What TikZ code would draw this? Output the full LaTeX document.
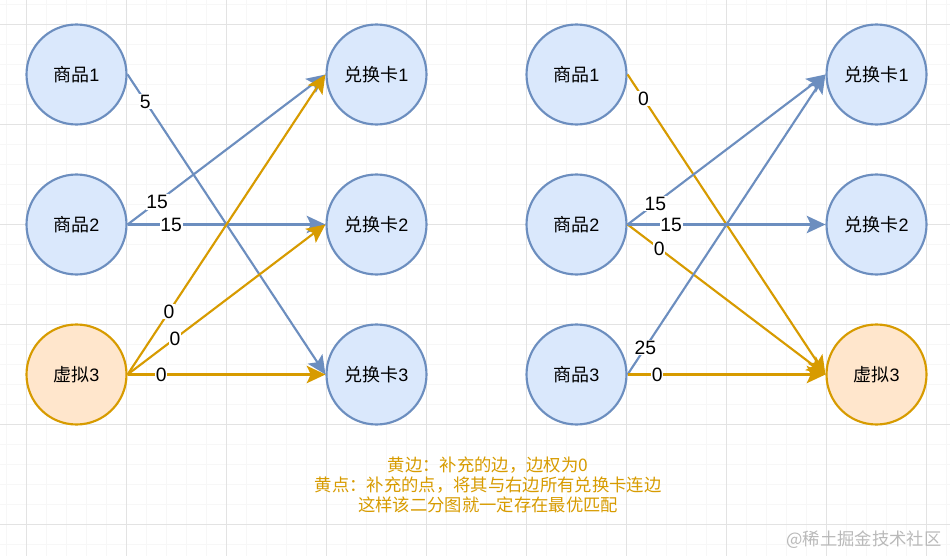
\documentclass[tikz,border=0pt]{standalone}
\usepackage{fontspec}
\setmainfont{Liberation Sans}
\newfontfamily\cjk{Noto Sans CJK SC}
\usetikzlibrary{arrows.meta}
\usepackage{xcolor}
\definecolor{itemfill}{HTML}{DAE8FC}
\definecolor{itemdraw}{HTML}{6C8EBF}
\definecolor{dummyfill}{HTML}{FFE6CC}
\definecolor{dummydraw}{HTML}{D79B00}

\begin{document}
\begin{tikzpicture}[
      x=0.75pt, y=-0.75pt,
      font=\fontsize{13.5}{15}\selectfont,
      item/.style={circle, draw=itemdraw, fill=itemfill, line width=1.6pt,
                   minimum size=75pt, inner sep=0pt},
      dummy/.style={item, draw=dummydraw, fill=dummyfill},
      arr/.style={line width=1.6pt, -{Stealth[length=14pt, width=13pt, inset=3pt]}},
      bluearr/.style={arr, draw=itemdraw},
      goldarr/.style={arr, draw=dummydraw},
      wt/.style={fill=white, inner sep=0.6pt, font=\fontsize{14.5}{15}\selectfont},
      gridminor/.style={draw=gray!6, line width=0.5pt},
      gridmajor/.style={draw=gray!22, line width=0.6pt},
    ]
    \useasboundingbox (0,0) rectangle (950,556);
    % ---------- background grid ----------
    \foreach \x in {6.5,26.5,...,946.5} \draw[gridminor] (\x,0) -- (\x,556);
    \foreach \y in {4.5,24.5,...,544.5} \draw[gridminor] (0,\y) -- (950,\y);
    \foreach \x in {26.5,126.5,...,926.5} \draw[gridmajor] (\x,0) -- (\x,556);
    \foreach \y in {24.5,124.5,...,524.5} \draw[gridmajor] (0,\y) -- (950,\y);

    % ---------- left graph ----------
    \node[item]  (la1) at (76.5,74.5)  {{\cjk 商品}1};
    \node[item]  (la2) at (76.5,224.5) {{\cjk 商品}2};
    \node[dummy] (la3) at (76.5,374.5) {{\cjk 虚拟}3};
    \node[item]  (lb1) at (376.5,74.5)  {{\cjk 兑换卡}1};
    \node[item]  (lb2) at (376.5,224.5) {{\cjk 兑换卡}2};
    \node[item]  (lb3) at (376.5,374.5) {{\cjk 兑换卡}3};

    \draw[bluearr] (la1.east) -- node[wt, pos=0.09] {5} (lb3.west);
    \draw[bluearr] (la2.east) -- node[wt, pos=0.15] {15} (lb1.west);
    \draw[bluearr] (la2.east) -- node[wt, pos=0.22] {15} (lb2.west);
    \draw[goldarr] (la3.east) -- node[wt, pos=0.21] {0} (lb1.west);
    \draw[goldarr] (la3.east) -- node[wt, pos=0.24] {0} (lb2.west);
    \draw[goldarr] (la3.east) -- node[wt, pos=0.17] {0} (lb3.west);

    % ---------- right graph ----------
    \node[item]  (ra1) at (576.5,74.5)  {{\cjk 商品}1};
    \node[item]  (ra2) at (576.5,224.5) {{\cjk 商品}2};
    \node[item]  (ra3) at (576.5,374.5) {{\cjk 商品}3};
    \node[item]  (rb1) at (876.5,74.5)  {{\cjk 兑换卡}1};
    \node[item]  (rb2) at (876.5,224.5) {{\cjk 兑换卡}2};
    \node[dummy] (rb3) at (876.5,374.5) {{\cjk 虚拟}3};

    \draw[goldarr] (ra1.east) -- node[wt, pos=0.08] {0} (rb3.west);
    \draw[goldarr] (ra2.east) -- node[wt, pos=0.16] {0} (rb3.west);
    \draw[bluearr] (ra2.east) -- node[wt, pos=0.14] {15} (rb1.west);
    \draw[bluearr] (ra2.east) -- node[wt, pos=0.22] {15} (rb2.west);
    \draw[bluearr] (ra3.east) -- node[wt, pos=0.09] {25} (rb1.west);
    \draw[goldarr] (ra3.east) -- node[wt, pos=0.15] {0} (rb3.west);

    % ---------- notes ----------
    \node[text=dummydraw, align=center, font=\cjk\fontsize{13}{15}\selectfont] (note) at (488,485)
      {黄边：补充的边，边权为0\\黄点：补充的点，将其与右边所有兑换卡连边\\这样该二分图就一定存在最优匹配};
    \node[text=gray!55, font=\cjk\fontsize{13}{15}\selectfont] (mark) at (864,540) {@稀土掘金技术社区};
  \end{tikzpicture}
\end{document}
